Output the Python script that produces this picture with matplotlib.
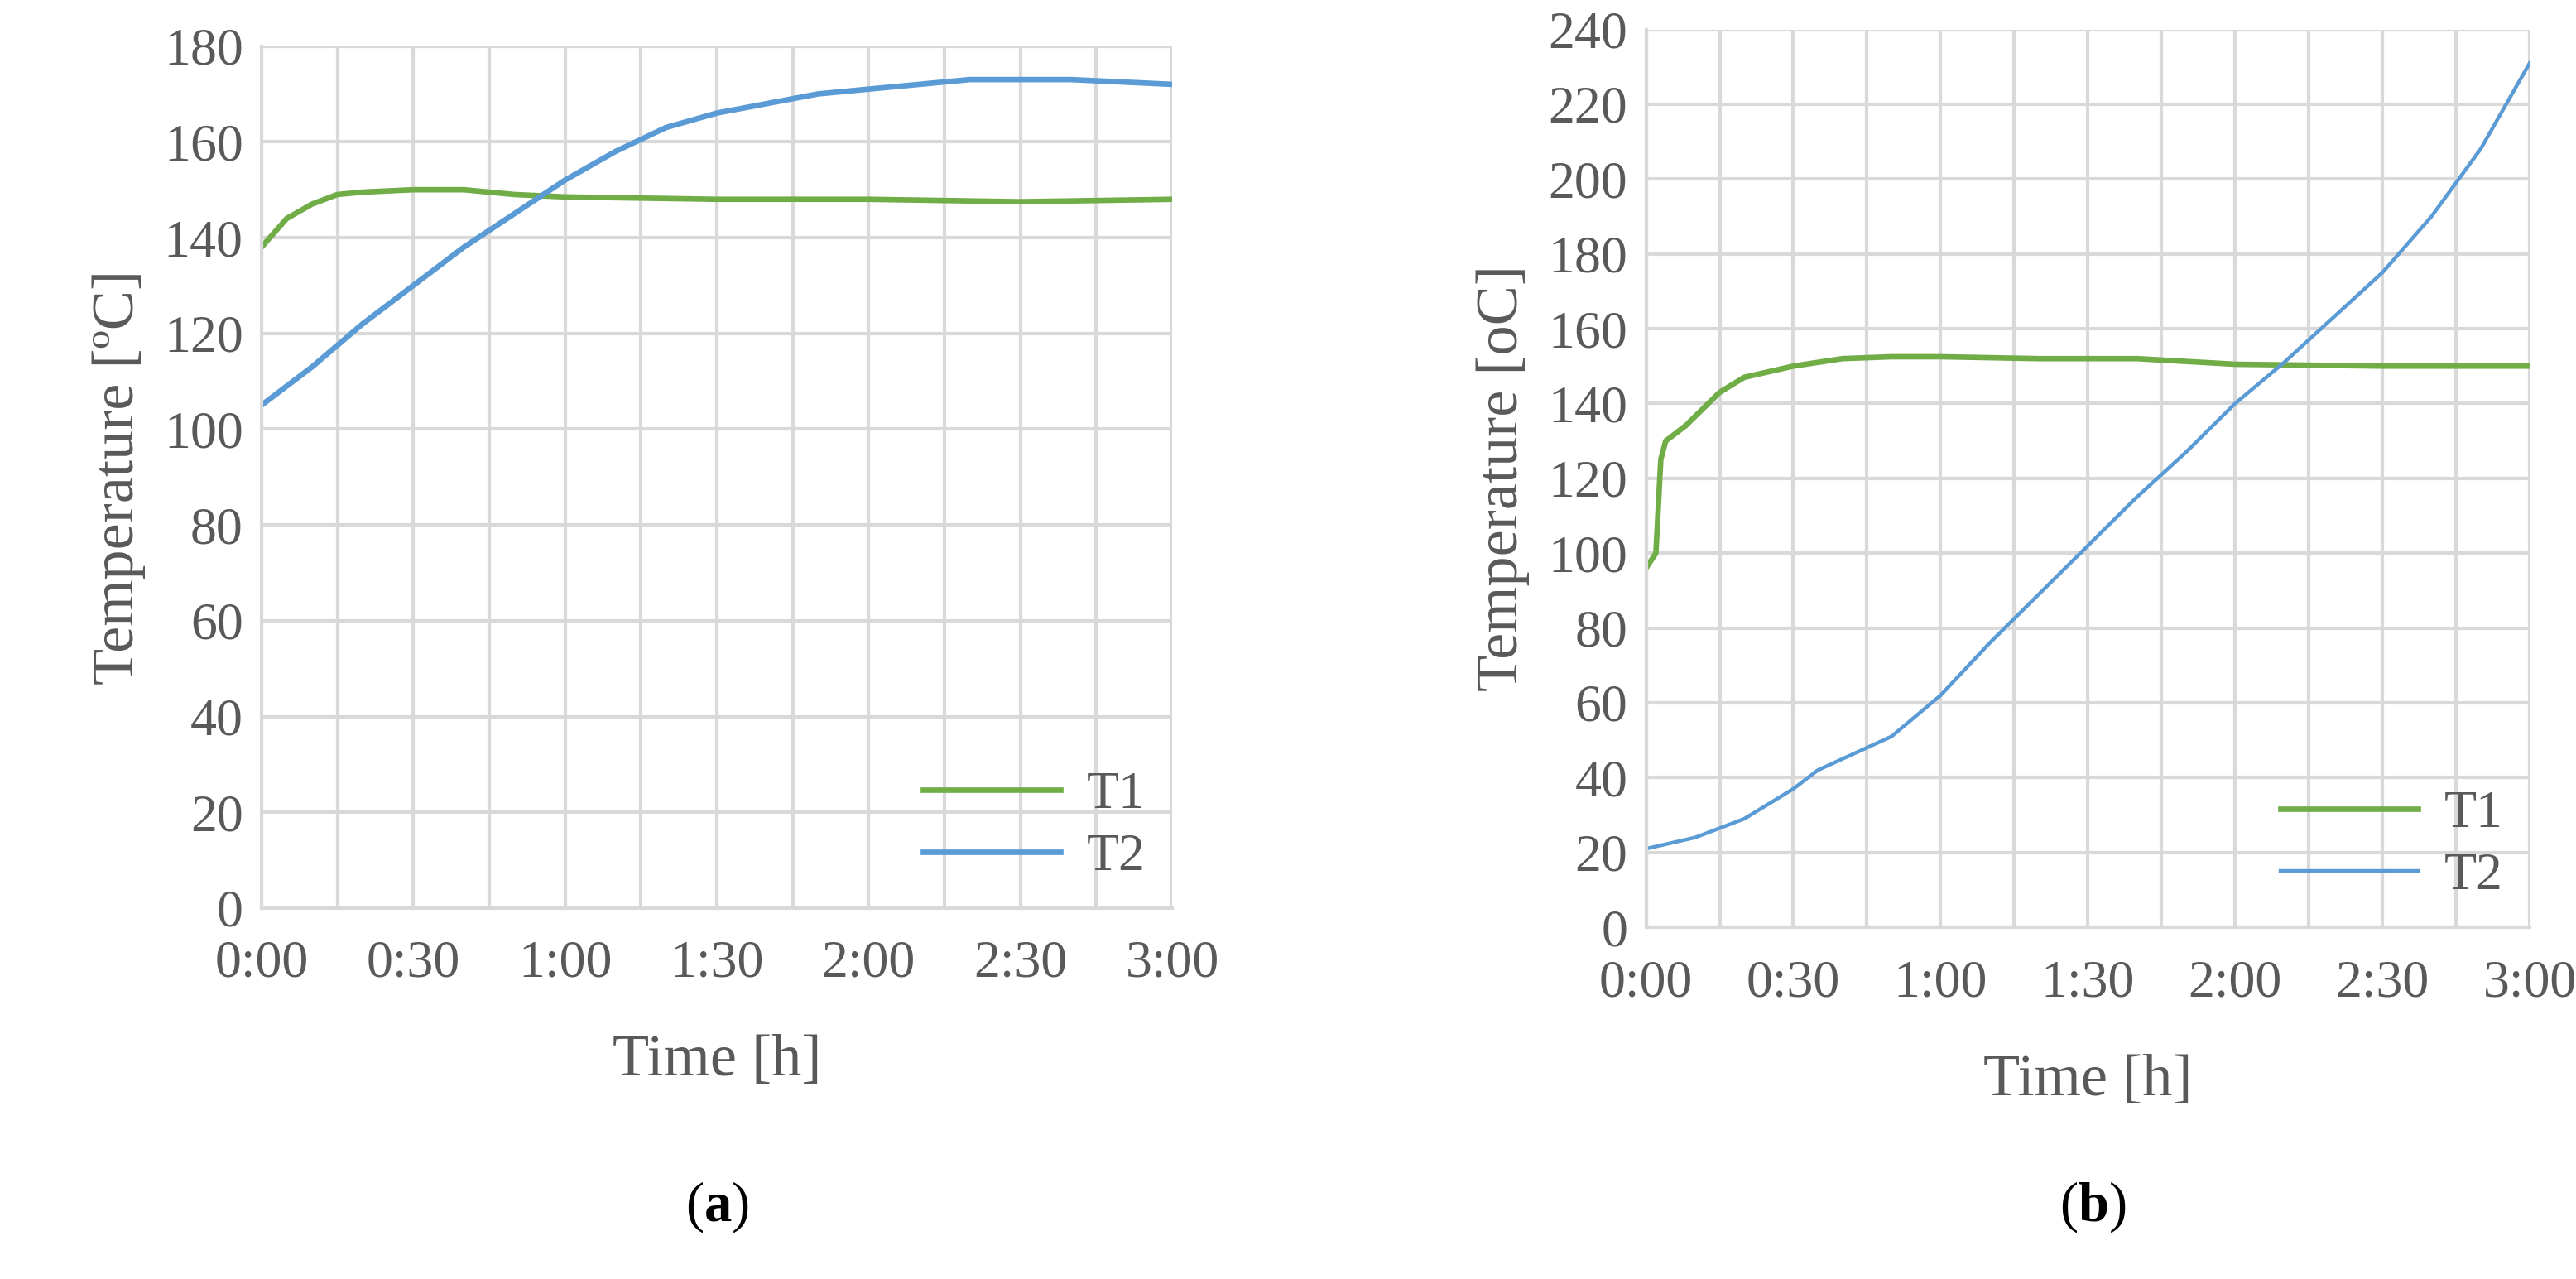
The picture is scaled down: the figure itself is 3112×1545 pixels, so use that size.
import matplotlib
matplotlib.use("Agg")
import matplotlib.pyplot as plt
from matplotlib.ticker import FixedLocator, FuncFormatter

ta1 = [0,5,10,15,20,30,40,50,60,90,120,150,180]
a_T1 = [138,144,147,149,149.5,150,150,149,148.5,148,148,147.5,148]
ta2 = [0,10,20,30,40,50,60,70,80,90,100,110,120,130,140,150,160,170,180]
a_T2 = [105,113,122,130,138,145,152,158,163,166,168,170,171,172,173,173,173,172.5,172]
tb1 = [0,2,3,4,8,15,20,30,40,50,60,80,100,120,150,180]
b_T1 = [96,100,125,130,134,143,147,150,152,152.5,152.5,152,152,150.5,150,150]
tb2 = [0,10,20,30,35,40,50,60,70,80,90,100,110,120,130,140,150,160,170,180]
b_T2 = [21,24,29,37,42,45,51,62,76,89,102,115,127,140,151,163,175,190,208,231]

GREEN, BLUE, TXT, GRID = "#70ad47", "#5b9bd5", "#595959", "#d9d9d9"
plt.rcParams['font.family'] = ['Liberation Serif', 'DejaVu Serif']
plt.rcParams['mathtext.fontset'] = 'custom'
plt.rcParams['mathtext.rm'] = 'Liberation Serif'
plt.rcParams['mathtext.bf'] = 'Liberation Serif:bold'

fig = plt.figure(figsize=(15.56, 7.725), dpi=200)
axa = fig.add_axes([0.1015, 0.29, 0.3535, 0.674])
axb = fig.add_axes([0.639, 0.275, 0.343, 0.702])

def fmt(v, p):
    return f"{int(v)//60}:{int(v)%60:02d}"

def style(ax, ymax, ylabel):
    ax.set_xlim(0, 180); ax.set_ylim(0, ymax)
    ax.xaxis.set_major_locator(FixedLocator(range(0, 181, 30)))
    ax.xaxis.set_minor_locator(FixedLocator(range(15, 181, 30)))
    ax.xaxis.set_major_formatter(FuncFormatter(fmt))
    ax.set_yticks(range(0, ymax + 1, 20))
    ax.grid(True, which='both', color=GRID, lw=1.5)
    ax.set_axisbelow(True)
    for s in ['top', 'right']:
        ax.spines[s].set_visible(False)
    for s in ['left', 'bottom']:
        ax.spines[s].set_color(GRID); ax.spines[s].set_linewidth(1.5)
    ax.tick_params(which='both', length=0, labelsize=23, colors=TXT)
    ax.tick_params(axis='x', pad=14)
    ax.tick_params(axis='y', pad=8)
    ax.set_xlabel("Time [h]", fontsize=26, color=TXT, labelpad=20)
    ax.set_ylabel(ylabel, fontsize=26, color=TXT, labelpad=8)
    ax.legend(loc='lower right', frameon=False, fontsize=23, labelcolor=TXT,
              handlelength=2.6, borderaxespad=0.1, handletextpad=0.5,
              labelspacing=0.25)

axa.plot(ta1, a_T1, color=GREEN, lw=2.4, label="T1")
axa.plot(ta2, a_T2, color=BLUE, lw=2.4, label="T2")
style(axa, 180, "Temperature [ºC]")
axb.plot(tb1, b_T1, color=GREEN, lw=2.4, label="T1")
axb.plot(tb2, b_T2, color=BLUE, lw=1.6, label="T2")
style(axb, 240, "Temperature [oC]")

fig.text(0.2785, 0.035, r"($\mathbf{a}$)", fontsize=24, ha='center', va='bottom')
fig.text(0.8125, 0.035, r"($\mathbf{b}$)", fontsize=24, ha='center', va='bottom')

fig.savefig("out.png", dpi=200)
